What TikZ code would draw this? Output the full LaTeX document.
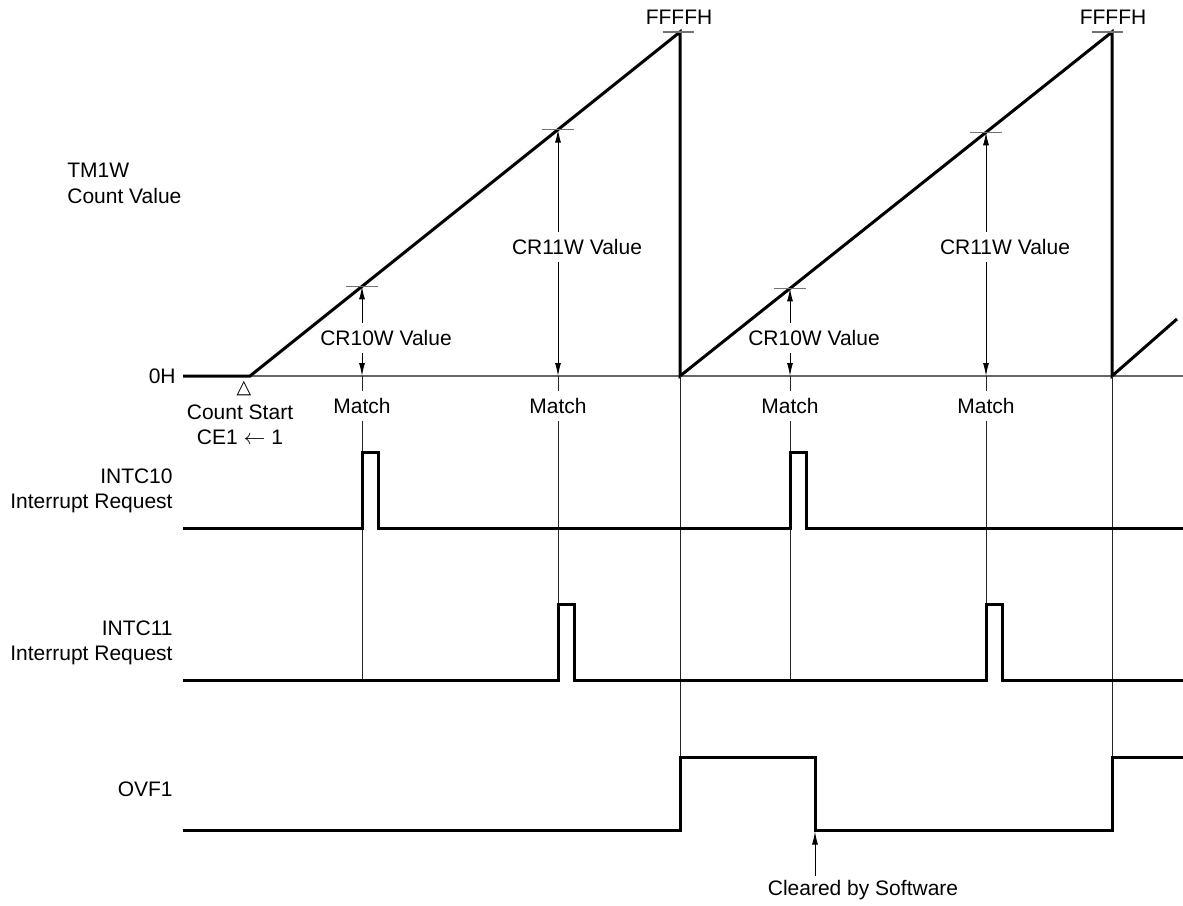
\documentclass[tikz,border=0pt]{standalone}
\usepackage{fontspec}
\setmainfont{Liberation Sans}
\newfontfamily\symfont{DejaVu Sans}
\usetikzlibrary{arrows.meta}
\begin{document}
\begin{tikzpicture}[x=0.5pt,y=-0.5pt,
  sig/.style={line width=1.5pt},
  axisline/.style={line width=0.75pt, draw=black!60},
  guide/.style={line width=0.5pt, draw=black!85},
  tickmark/.style={line width=0.75pt, draw=black!55},
  meas/.style={line width=0.5pt, -{Latex[length=6.5pt,width=3pt]}},
  lbl/.style={font=\fontsize{10.5}{12}\selectfont, inner sep=0pt},
  mlbl/.style={lbl, inner ysep=3.5pt, inner xsep=1pt},
]
\useasboundingbox (0,0) rectangle (1183,905);

% key points of the count waveform
\coordinate (o0) at (183,376);
\coordinate (cs) at (250,376);
\coordinate (pk1) at (680,32);
\coordinate (dn1) at (680,376);
\coordinate (pk2) at (1112,32);
\coordinate (dn2) at (1112,376);
\coordinate (r3) at (1177,319);
\coordinate (oR) at (1183,376);

\coordinate (a1) at (362,286.4);
\coordinate (a2) at (558,129.6);
\coordinate (a3) at (790,288.4);
\coordinate (a4) at (986,132.3);

\coordinate (i11b) at (0,680);
\coordinate (ovh) at (0,757);
\coordinate (ovc) at (815,831.5);

% axis and count
\draw[axisline] (o0) -- (oR);
\draw[sig] (o0) -- (cs) -- (pk1) -- (dn1) -- (pk2) -- (dn2) -- (r3);

% ticks
\draw[tickmark] ([xshift=-8.5pt]pk1) -- ([xshift=7pt]pk1);
\draw[tickmark] ([xshift=-10pt]pk2) -- ([xshift=5.5pt]pk2);
\foreach \p in {a1,a2,a3,a4}
  \draw[tickmark] ([xshift=-8pt]\p) -- ([xshift=8pt]\p);

% labels
\node[lbl] (ff1) at (679,17) {FFFFH};
\node[lbl] (ff2) at (1113,17) {FFFFH};
\node[lbl,anchor=base west] (tm) at (67,177) {TM1W};
\node[lbl,anchor=base west] (cv) at (67,203) {Count Value};
\node[lbl,anchor=east] (zh) at (176,376) {0H};
\node[lbl,font=\symfont\fontsize{9.5}{10}\selectfont] (tri) at (244,389) {△};
\node[lbl,anchor=base] (cst) at (240,419) {Count Start};
\node[lbl,anchor=base] (ce) at (240,444) {CE1 $\leftarrow$ 1};

\node[mlbl] (m1) at (362,406) {Match};
\node[mlbl] (m2) at (558,406) {Match};
\node[mlbl] (m3) at (790,406) {Match};
\node[mlbl] (m4) at (986,406) {Match};

\node[mlbl] (v1) at (386,338) {CR10W Value};
\node[mlbl] (v2) at (577,247) {CR11W Value};
\node[mlbl] (v3) at (814,338) {CR10W Value};
\node[mlbl] (v4) at (1005,247) {CR11W Value};

% measurement arrows
\foreach \v/\a in {v1/a1,v2/a2,v3/a3,v4/a4}{
  \draw[meas] (\v.north -| \a) -- (\a);
  \draw[meas] (\v.south -| \a) -- (\a |- o0);
}

% guide lines
\foreach \m in {m1,m2,m3,m4}{
  \draw[guide] (\m.north |- o0) -- (\m.north);
  \draw[guide] (\m.south) -- (\m.south |- i11b);
}
\draw[guide] (dn1) -- (dn1 |- ovh);
\draw[guide] (dn2) -- (dn2 |- ovh);

% INTC10
\node[lbl,anchor=base east] (n10) at (173,483) {INTC10};
\node[lbl,anchor=base east] (n10r) at (173,508) {Interrupt Request};
\draw[sig] (183,528) -| (362,452) -| (378,528) -| (790,452) -| (806,528) -- (1183,528);

% INTC11
\node[lbl,anchor=base east] (n11) at (173,635) {INTC11};
\node[lbl,anchor=base east] (n11r) at (173,660) {Interrupt Request};
\draw[sig] (183,680) -| (558,604) -| (574,680) -| (986,604) -| (1002,680) -- (1183,680);

% OVF1
\node[lbl,anchor=base east] (ovf) at (173,796) {OVF1};
\draw[sig] (183,830) -| (680,757) -| (815,830) -| (1112,757) -- (1183,757);

% cleared by software
\node[lbl,inner ysep=2pt] (clr) at (863,890) {Cleared by Software};
\draw[meas] (clr.north -| ovc) -- (ovc);
\end{tikzpicture}
\end{document}
